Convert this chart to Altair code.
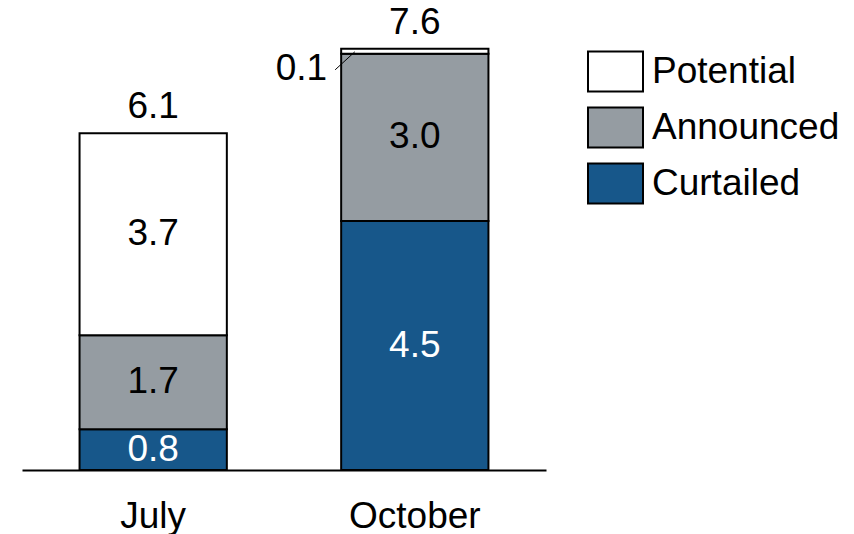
import altair as alt
import pandas as pd

months = ["July", "October"]
series_order = ["Curtailed", "Announced", "Potential"]
legend_order = ["Potential", "Announced", "Curtailed"]
curtailed = [0.74, 4.51]
announced = [1.70, 3.03]
potential = [3.66, 0.09]
curtailed_labels = ["0.8", "4.5"]
announced_labels = ["1.7", "3.0"]
potential_labels = ["3.7", "0.1"]
total_labels = ["6.1", "7.6"]
palette = ["#ffffff", "#959ca2", "#17578a"]

FONT = "Liberation Sans"
FS = 37

rows = []
for i, m in enumerate(months):
    lo = 0.0
    for s, vals, labs in [("Curtailed", curtailed, curtailed_labels),
                          ("Announced", announced, announced_labels),
                          ("Potential", potential, potential_labels)]:
        v = vals[i]
        rows.append(dict(month=m, series=s, lo=lo, hi=lo + v, mid=lo + v / 2,
                         label=labs[i], inside=bool(v > 0.3),
                         txtcolor="white" if s == "Curtailed" else "black"))
        lo += v
df = pd.DataFrame(rows)
tot = pd.DataFrame({"month": months,
                    "top": [c + a + p for c, a, p in zip(curtailed, announced, potential)],
                    "label": total_labels})

xenc = alt.X("month:N",
             scale=alt.Scale(paddingInner=0.437, paddingOuter=0.22),
             axis=alt.Axis(title=None, labelAngle=0, labelFontSize=FS, labelFont=FONT,
                           labelColor="black", labelPadding=28, ticks=False,
                           domainColor="black", domainWidth=2))
yscale = alt.Scale(domain=[0, 8.333], nice=False, zero=True)

base = alt.Chart(df)

bars = base.mark_bar(stroke="black", strokeWidth=2).encode(
    x=xenc,
    y=alt.Y("lo:Q", scale=yscale, axis=None),
    y2="hi:Q",
    color=alt.Color("series:N",
                    scale=alt.Scale(domain=legend_order, range=palette),
                    legend=alt.Legend(title=None, orient="none", legendX=565, legendY=33,
                                      symbolType="M-1,-0.727L1,-0.727L1,0.727L-1,0.727Z",
                                      symbolSize=3025, symbolStrokeColor="black",
                                      symbolStrokeWidth=2, symbolOpacity=1,
                                      labelFontSize=FS, labelFont=FONT, labelColor="black",
                                      labelOffset=8, labelLimit=400, rowPadding=3, padding=0)),
)

inner = base.transform_filter("datum.inside").mark_text(
    fontSize=FS, font=FONT, baseline="middle").encode(
    x=alt.X("month:N"),
    y=alt.Y("mid:Q"),
    text="label:N",
    color=alt.Color("txtcolor:N", scale=None),
)

outside = base.transform_filter("!datum.inside").mark_text(
    fontSize=FS, font=FONT, align="right", baseline="alphabetic", dx=-14, dy=31,
    color="black").encode(
    x=alt.X("month:N", bandPosition=0),
    y=alt.Y("hi:Q"),
    text="label:N",
)

leader = base.transform_filter("!datum.inside").mark_rule(
    color="black", strokeWidth=1, xOffset=-6, x2Offset=-60, yOffset=21, y2Offset=3).encode(
    x=alt.X("month:N", bandPosition=0),
    x2=alt.X2("month"),
    y=alt.Y("hi:Q"),
    y2=alt.Y2("hi"),
)

totals = alt.Chart(tot).mark_text(
    fontSize=FS, font=FONT, baseline="alphabetic", dy=-15, color="black").encode(
    x=alt.X("month:N"),
    y=alt.Y("top:Q"),
    text="label:N",
)

chart = alt.layer(bars, inner, outside, leader, totals).properties(
    width=524, height=460,
    padding={"left": 14, "top": 2, "right": 300, "bottom": 64},
    autosize=alt.AutoSizeParams(type="none"),
).configure_view(stroke=None)

chart.save("out.html", embed_options={"renderer": "svg", "actions": False})
